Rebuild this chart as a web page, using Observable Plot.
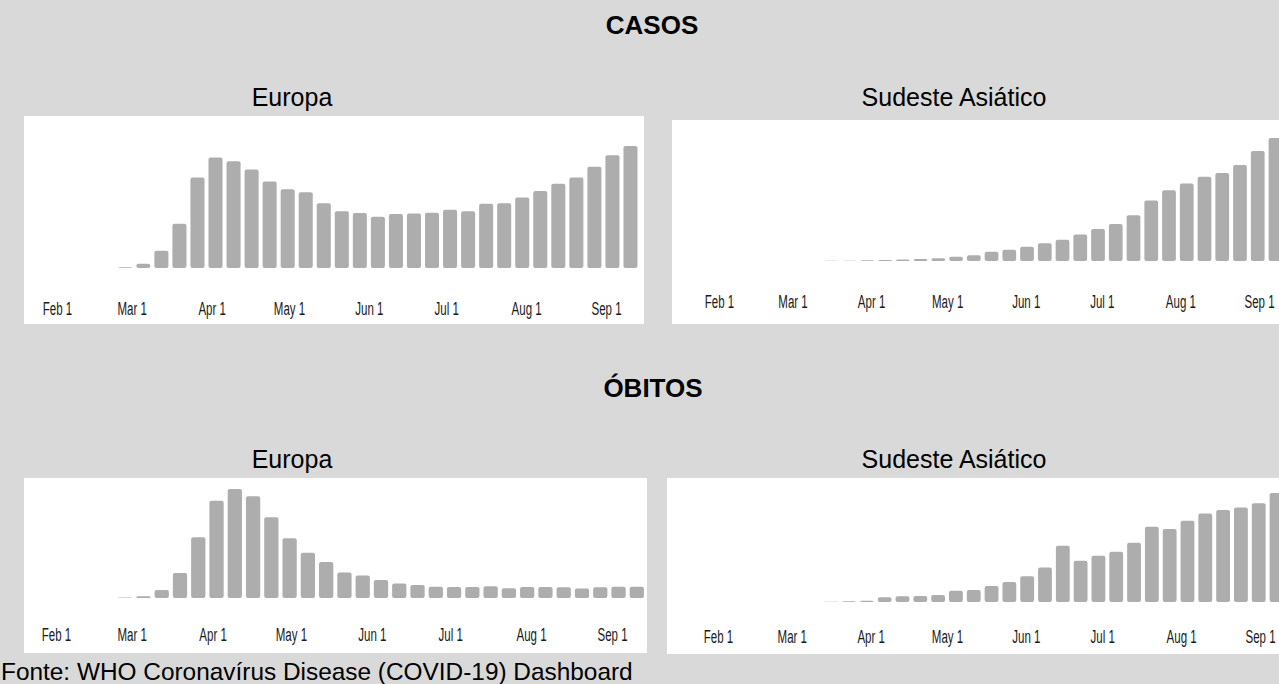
<!DOCTYPE html>
<html>
<head>
<meta charset="utf-8">
<script src="https://cdn.jsdelivr.net/npm/d3@7"></script>
<script src="https://cdn.jsdelivr.net/npm/@observablehq/plot@0.6"></script>
<style>
  html, body { margin: 0; padding: 0; width: 1279px; height: 684px; overflow: hidden; background: #d9d9d9; }
  .panel { position: absolute; background: #ffffff; overflow: hidden; }
  #titles { position: absolute; left: 0; top: 0; }
</style>
</head>
<body>
<svg id="titles" width="1279" height="684"></svg>
<div id="p-casos-eu" class="panel"></div>
<div id="p-casos-sea" class="panel"></div>
<div id="p-obitos-eu" class="panel"></div>
<div id="p-obitos-sea" class="panel"></div>
<script>
// ---- Data ----
const sectionTitles = ["CASOS", "ÓBITOS"];
const regionNames = ["Europa", "Sudeste Asiático"];
const sourceNote = "Fonte: WHO Coronavírus Disease (COVID-19) Dashboard";

const monthTicks = ["2020-02-01", "2020-03-01", "2020-04-01", "2020-05-01", "2020-06-01", "2020-07-01", "2020-08-01", "2020-09-01"];

// first week of each regional series
const europeFirstWeek = "2020-02-24";
const seaFirstWeek = "2020-03-13";

// weekly new cases
const casesEurope = [2000, 10400, 41600, 107200, 219200, 267200, 258400, 238400, 209600, 190400, 183200, 156800, 137600, 132800, 124000, 130400, 132000, 133600, 140800, 137600, 155200, 156800, 170400, 186400, 204000, 219200, 244800, 272800, 295200];
const casesSEA = [1200, 1900, 3300, 5200, 7100, 10400, 13800, 22000, 29300, 47500, 58100, 73400, 90600, 109000, 136200, 163500, 189000, 234500, 309800, 362000, 396500, 431200, 451000, 491500, 563000, 629500];

// weekly new deaths
const deathsEurope = [150, 520, 2400, 7500, 18300, 29300, 32800, 30600, 24300, 18000, 13600, 10800, 7700, 6800, 5400, 4400, 3900, 3350, 3300, 3320, 3550, 2900, 3280, 3300, 3260, 2850, 3200, 3380, 3400];
const deathsSEA = [25, 50, 100, 350, 425, 450, 525, 850, 900, 1200, 1500, 1925, 2575, 4200, 3075, 3450, 3750, 4425, 5625, 5450, 6075, 6625, 6875, 7075, 7375, 8150];

// ---- Build ----
const parse = d3.utcParse("%Y-%m-%d");
const ticks = monthTicks.map(parse);

function weekly(first, values) {
  const s = parse(first);
  return values.map((v, i) => ({start: d3.utcDay.offset(s, 7 * i), end: d3.utcDay.offset(s, 7 * i + 7), value: v}));
}

function panel(id, cfg) {
  const el = document.getElementById(id);
  el.style.left = cfg.left + "px";
  el.style.top = cfg.top + "px";
  el.style.width = cfg.width + "px";
  el.style.height = cfg.height + "px";
  const svg = Plot.plot({
    width: cfg.width,
    height: cfg.height,
    marginLeft: cfg.mL,
    marginRight: cfg.mR,
    marginTop: cfg.mT,
    marginBottom: cfg.mB,
    style: {background: "#ffffff", fontFamily: "'Liberation Sans', Arial, sans-serif", fontSize: "18px", color: "#1a1a1a", maxWidth: "none", overflow: "visible"},
    x: {type: "utc", domain: [ticks[0], ticks[ticks.length - 1]], ticks: ticks, tickFormat: d3.utcFormat("%b %-d"), tickSize: 0, tickPadding: cfg.pad, label: null},
    y: {domain: [0, d3.max(cfg.data, d => d.value)], axis: null},
    marks: [
      Plot.rectY(cfg.data, {x1: "start", x2: "end", y: "value", fill: "#adadad", insetLeft: 2, insetRight: 2, rx: 2})
    ]
  });
  el.appendChild(svg);
  // condensed tick labels, like the narrow dashboard font: squeeze each label about its anchor
  d3.select(svg).selectAll("text").each(function() {
    const x = +(this.getAttribute("x") || 0);
    const tr = this.getAttribute("transform") || "";
    this.setAttribute("transform", `${tr} translate(${x},0) scale(0.64,1) translate(${-x},0)`.trim());
  });
}

panel("p-casos-eu", {left: 24, top: 116, width: 620, height: 208, mL: 33, mR: 38, mT: 30, mB: 56, pad: 34, data: weekly(europeFirstWeek, casesEurope)});
panel("p-casos-sea", {left: 672, top: 120, width: 640, height: 204, mL: 47, mR: 53, mT: 18, mB: 63, pad: 34, data: weekly(seaFirstWeek, casesSEA)});
panel("p-obitos-eu", {left: 24, top: 478, width: 623, height: 175, mL: 32, mR: 35, mT: 11, mB: 55, pad: 30, data: weekly(europeFirstWeek, deathsEurope)});
panel("p-obitos-sea", {left: 667, top: 478, width: 640, height: 176, mL: 51, mR: 47, mT: 15, mB: 52, pad: 28, data: weekly(seaFirstWeek, deathsSEA)});

// ---- Titles ----
const t = d3.select("#titles").attr("font-family", "'Liberation Sans', Arial, sans-serif").attr("fill", "#000");
const titleItems = [
  {text: sectionTitles[0], x: 652, y: 34, size: 26, weight: "bold", anchor: "middle"},
  {text: regionNames[0], x: 292, y: 106, size: 25, weight: "normal", anchor: "middle"},
  {text: regionNames[1], x: 954, y: 106, size: 25, weight: "normal", anchor: "middle"},
  {text: sectionTitles[1], x: 653, y: 397, size: 26, weight: "bold", anchor: "middle"},
  {text: regionNames[0], x: 292, y: 468, size: 25, weight: "normal", anchor: "middle"},
  {text: regionNames[1], x: 954, y: 468, size: 25, weight: "normal", anchor: "middle"},
  {text: sourceNote, x: 1, y: 680, size: 24.4, weight: "normal", anchor: "start"}
];
t.selectAll("text").data(titleItems).join("text")
  .attr("x", d => d.x).attr("y", d => d.y)
  .attr("font-size", d => d.size).attr("font-weight", d => d.weight)
  .attr("text-anchor", d => d.anchor)
  .text(d => d.text);
</script>
</body>
</html>
